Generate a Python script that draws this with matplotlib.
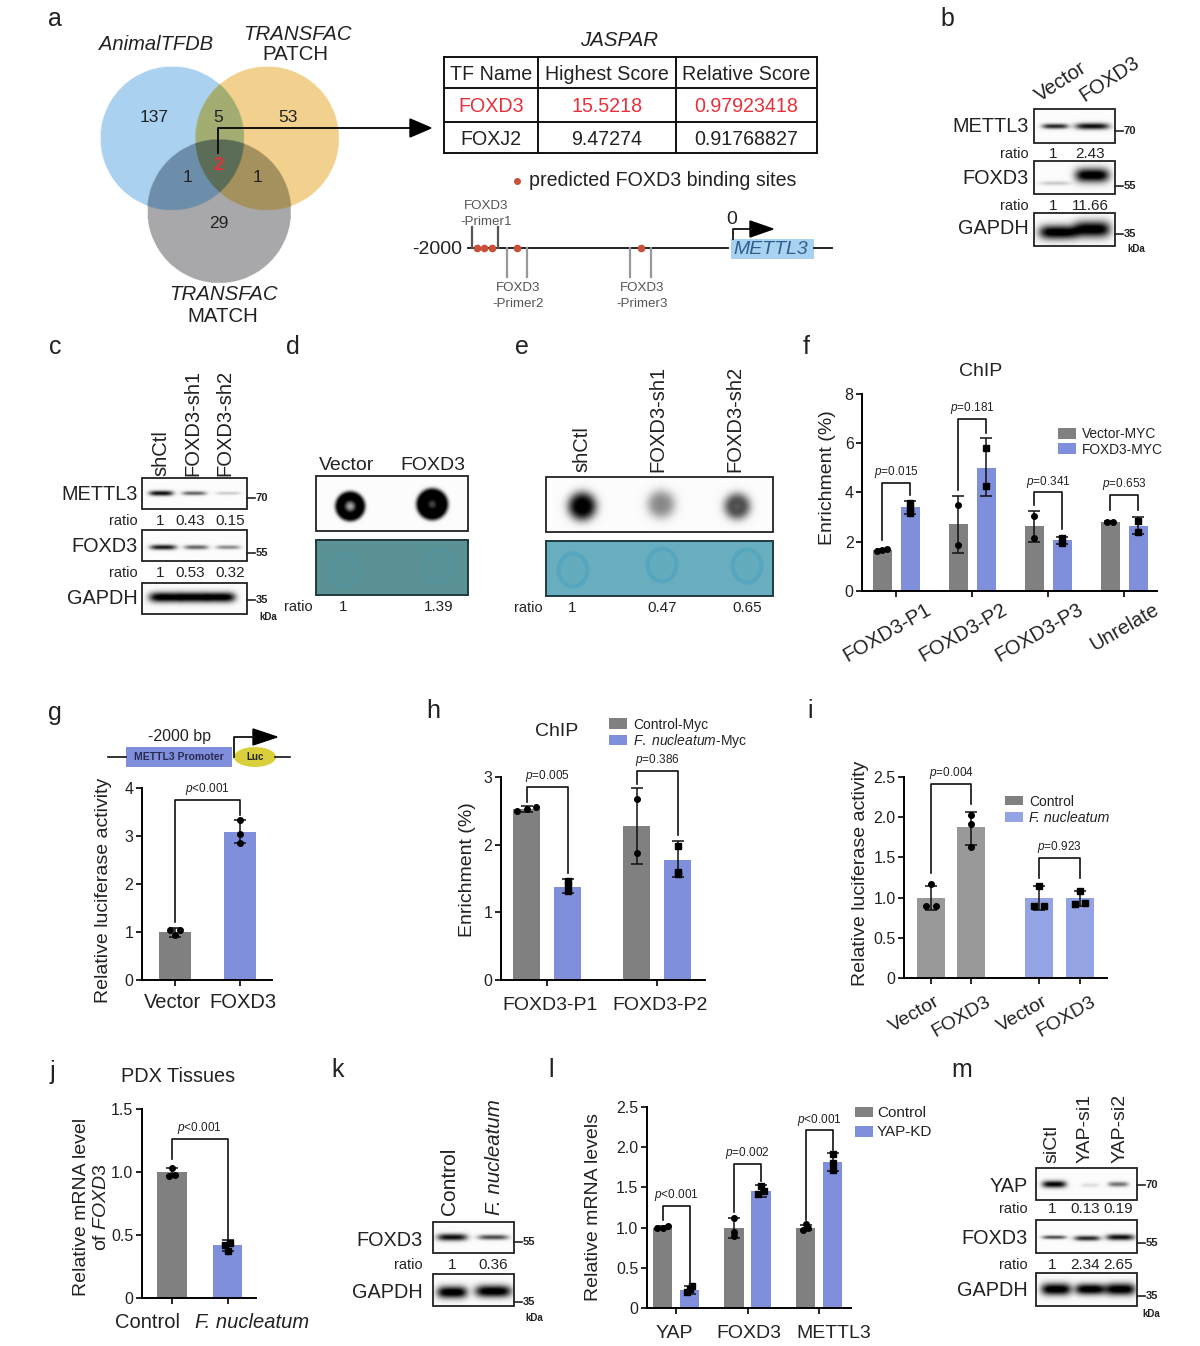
import matplotlib
matplotlib.use('Agg')
import matplotlib.pyplot as plt
import numpy as np
from matplotlib.patches import Rectangle, Ellipse, Polygon
from matplotlib.transforms import ScaledTranslation

plt.rcParams['font.family'] = 'Liberation Sans'
plt.rcParams['mathtext.fontset'] = 'custom'
plt.rcParams['mathtext.rm'] = 'Liberation Sans'
plt.rcParams['mathtext.it'] = 'Liberation Sans:italic'

W = 1200
H = 1346
INK = '#222222'
GRAY = '#808080'
BLUE = '#7F8FDC'
LGRAY = '#999999'
LBLUE = '#93A3E3'
RED = '#E8303A'
DOT = '#C9503A'

# panel f
f_groups = ['FOXD3-P1', 'FOXD3-P2', 'FOXD3-P3', 'Unrelate']
f_vector = [1.65, 2.7, 2.65, 2.8]
f_foxd3 = [3.4, 5.0, 2.05, 2.65]
f_vector_lo = [1.6, 1.55, 2.0, 2.77]
f_vector_hi = [1.7, 3.85, 3.25, 2.83]
f_foxd3_lo = [3.1, 3.85, 1.9, 2.3]
f_foxd3_hi = [3.65, 6.2, 2.2, 3.0]
f_vector_pts = [[1.62, 1.65, 1.68], [1.85, 3.5], [2.15, 3.05], [2.8, 2.8]]
f_foxd3_pts = [[3.15, 3.35, 3.55], [4.25, 5.8], [1.95, 2.15], [2.4, 2.85]]
f_brackets = [(2.05, 4.4, 3.9), (4.1, 7.0, 6.4), (3.5, 4.0, 2.5), (3.3, 3.9, 3.3)]
f_p = ['0.015', '0.181', '0.341', '0.653']

# panel g
g_labels = ['Vector', 'FOXD3']
g_values = [1.0, 3.07]
g_lo = [0.9, 2.85]
g_hi = [1.08, 3.32]
g_pts = [[0.93, 1.05, 1.05], [2.86, 3.03, 3.32]]

# panel h
h_groups = ['FOXD3-P1', 'FOXD3-P2']
h_control = [2.52, 2.27]
h_fn = [1.38, 1.78]
h_control_lo = [2.48, 1.72]
h_control_hi = [2.57, 2.84]
h_fn_lo = [1.29, 1.52]
h_fn_hi = [1.49, 2.06]
h_control_pts = [[2.5, 2.53, 2.55], [1.87, 2.67]]
h_fn_pts = [[1.32, 1.4, 1.47], [1.57, 1.6, 1.98]]
h_brackets = [(2.63, 2.85, 1.58), (2.9, 3.09, 2.14)]
h_p = ['0.005', '0.386']

# panel i
i_labels = ['Vector', 'FOXD3', 'Vector', 'FOXD3']
i_values = [1.0, 1.88, 1.0, 1.0]
i_lo = [0.85, 1.65, 0.85, 0.9]
i_hi = [1.15, 2.07, 1.14, 1.08]
i_pts = [[0.9, 0.9, 1.17], [1.63, 1.92, 2.03], [0.9, 0.9, 1.14], [0.92, 0.93, 1.08]]

# panel j
j_labels = ['Control', 'F. nucleatum']
j_values = [1.0, 0.42]
j_lo = [0.97, 0.37]
j_hi = [1.03, 0.46]
j_pts = [[0.97, 0.98, 1.03], [0.37, 0.42, 0.44]]

# panel l
l_groups = ['YAP', 'FOXD3', 'METTL3']
l_control = [1.0, 1.0, 1.0]
l_kd = [0.23, 1.46, 1.82]
l_control_lo = [0.98, 0.87, 0.97]
l_control_hi = [1.02, 1.12, 1.03]
l_kd_lo = [0.18, 1.38, 1.7]
l_kd_hi = [0.27, 1.53, 1.93]
l_control_pts = [[0.99, 1.0, 1.02], [0.9, 0.95, 1.12], [0.97, 1.0, 1.04]]
l_kd_pts = [[0.2, 0.24, 0.27], [1.42, 1.46, 1.52], [1.72, 1.8, 1.92]]
l_brackets = [(1.1, 1.27, 0.29), (1.2, 1.79, 1.58), (1.1, 2.21, 1.97)]
l_p = ['<0.001', '=0.002', '<0.001']

# table in panel a
table_rows = [['TF Name', 'Highest Score', 'Relative Score'],
              ['FOXD3', '15.5218', '0.97923418'],
              ['FOXJ2', '9.47274', '0.91768827']]

fig = plt.figure(figsize=(W / 100, H / 100), dpi=100)
bg = fig.add_axes([0, 0, 1, 1])
bg.set_xlim(0, W)
bg.set_ylim(H, 0)
bg.set_autoscale_on(False)
bg.axis('off')


def txt(x, y, s, size=14, ha='center', va='center', color=INK, **kw):
    # centred text sits a little low in the reference
    if va == 'center':
        y = y + 2
    bg.text(x, y, s, fontsize=size, ha=ha, va=va, color=color, **kw)


def px_axes(left, right, y_bottom, y_top, t0, step, ylim):
    ax = fig.add_axes([left / W, 1 - y_bottom / H, (right - left) / W, (y_bottom - y_top) / H])
    ax.patch.set_visible(False)
    ax.set_xlim((left - t0) / step, (right - t0) / step)
    ax.set_ylim(*ylim)
    for side in ['top', 'right']:
        ax.spines[side].set_visible(False)
    for side in ['left', 'bottom']:
        ax.spines[side].set_linewidth(1.4)
    ax.tick_params(width=1.2, length=4, labelsize=11.5, labelcolor=INK, pad=2)
    return ax


def shift(label, dx, dy=0):
    label.set_transform(label.get_transform() + ScaledTranslation(dx / 100, dy / 100, fig.dpi_scale_trans))


# points closer than thr sit side by side, as in a prism scatter
def swarm(vals, thr, dx):
    out = []
    for i, v in enumerate(vals):
        near = [j for j, u in enumerate(vals) if abs(u - v) < thr]
        out.append(dx * (near.index(i) - (len(near) - 1) / 2))
    return out


def bars(ax, xs, vals, lo, hi, pts, colors, markers, width, thr, dx):
    ax.bar(xs, vals, width, color=colors, zorder=1)
    yerr = [np.array(vals) - np.array(lo), np.array(hi) - np.array(vals)]
    ax.errorbar(xs, vals, yerr=yerr, fmt='none', ecolor='#111111', elinewidth=1.1,
                capsize=4.5, capthick=1.1, zorder=3)
    for x, p, m in zip(xs, pts, markers):
        off = swarm(p, thr, dx)
        size = 5 if m == 's' else 4
        ax.plot(np.array(off) + x, p, m, color='k', ms=size, zorder=4, clip_on=False)


def bracket(ax, xl, xr, b, p, label):
    ax.plot([xl, xl, xr, xr], [b[0], b[1], b[1], b[2]], color='#111111', lw=1.2,
            clip_on=False, zorder=5)
    ax.annotate(r'$\mathit{p}$' + label, ((xl + xr) / 2, p), xytext=(0, 2),
                textcoords='offset points', ha='center', va='bottom', fontsize=8.5,
                color=INK, annotation_clip=False)


def ylabel(ax, s, x, y):
    ax.set_ylabel(s, fontsize=14, color=INK)
    ax.yaxis.set_label_coords(x + 9, y, transform=bg.transData)


def swatch(x, y0, y1, color, label, size=10, style='normal', width=18, pad=6):
    bg.add_patch(Rectangle((x, y0), width, y1 - y0, color=color, lw=0))
    txt(x + width + pad, (y0 + y1) / 2 - 1, label, size=size, ha='left', style=style)


def blot(x0, x1, y0, y1, bands):
    yy, xx = np.mgrid[y0:y1:0.5, x0:x1:0.5]
    img = np.ones_like(xx) * 0.985
    for cx, cy, hw, hh, dark in bands:
        img -= dark * np.exp(-((xx - cx) / hw) ** 4 - ((yy - cy) / hh) ** 2)
    bg.imshow(np.clip(img, 0, 1), cmap='gray', vmin=0, vmax=1, extent=(x0, x1, y1, y0),
              aspect='auto', interpolation='bilinear', zorder=1)
    bg.add_patch(Rectangle((x0, y0), x1 - x0, y1 - y0, fill=False, ec='#222222', lw=1.3, zorder=2))


def dots(x0, x1, y0, y1, spots):
    yy, xx = np.mgrid[y0:y1:0.5, x0:x1:0.5]
    img = np.ones_like(xx) * 0.985
    for cx, cy, rad, sharp, dark, hole in spots:
        r = np.hypot(xx - cx, yy - cy)
        img -= dark * np.exp(-(r / rad) ** sharp) * (1 - hole * np.exp(-(r / 6.5) ** 2))
    bg.imshow(np.clip(img, 0, 1), cmap='gray', vmin=0, vmax=1, extent=(x0, x1, y1, y0),
              aspect='auto', interpolation='bilinear', zorder=1)
    bg.add_patch(Rectangle((x0, y0), x1 - x0, y1 - y0, fill=False, ec='#222222', lw=1.3, zorder=2))


def stained(x0, x1, y0, y1, fill, ring, rings, alpha):
    bg.add_patch(Rectangle((x0, y0), x1 - x0, y1 - y0, fc=fill, ec='#1F3A3E', lw=1.4))
    for cx, cy in rings:
        bg.add_patch(Ellipse((cx, cy), 29, 33, fc=ring, ec='none', alpha=alpha * 0.25))
        bg.add_patch(Ellipse((cx, cy), 29, 33, fill=False, ec=ring, lw=3, alpha=alpha))


def mw(x, y, label, size=8):
    bg.plot([x, x + 8], [y, y], color='#222222', lw=1.2)
    txt(x + 9, y - 2, label, size=size, ha='left', weight='bold')


# panel letters
letters = {'a': (55, 19), 'b': (947, 19), 'c': (55, 347), 'd': (293, 347), 'e': (522, 347),
           'f': (806, 347), 'g': (55, 713), 'h': (433, 711), 'i': (810, 711), 'j': (52, 1072),
           'k': (338, 1070), 'l': (551, 1070), 'm': (962, 1070)}
for k, (x, y) in letters.items():
    txt(x, y - 2, k, size=18)

# a: venn drawn as region colours
yy, xx = np.mgrid[50:300:0.5, 80:350:0.5]
in_blue = np.hypot(xx - 172, yy - 138) < 72
in_yellow = np.hypot(xx - 267, yy - 138) < 72
in_gray = np.hypot(xx - 219, yy - 211) < 72
region = in_blue * 1 + in_yellow * 2 + in_gray * 4
lut = np.array([[1, 1, 1, 0], [0.67, 0.82, 0.94, 1], [0.95, 0.82, 0.56, 1], [0.64, 0.68, 0.45, 1],
                [0.66, 0.66, 0.67, 1], [0.43, 0.56, 0.67, 1], [0.65, 0.57, 0.37, 1], [0.36, 0.43, 0.34, 1]])
bg.imshow(lut[region], extent=(80, 350, 300, 50), aspect='auto', interpolation='bilinear', zorder=1)
txt(156, 42, 'AnimalTFDB', style='italic', size=14.5)
txt(297, 32, 'TRANSFAC', style='italic', size=14.7)
txt(295, 53, 'PATCH', size=14.7)
txt(223, 292, 'TRANSFAC', style='italic', size=14.7)
txt(223, 314, 'MATCH', size=14.7)
for x, y, s in [(154, 116, '137'), (218, 116, '5'), (288, 116, '53'), (188, 176, '1'),
                (257, 176, '1'), (219, 221, '29')]:
    txt(x, y, s, size=12.5, zorder=3)
txt(218, 163, '2', size=13, color=RED, weight='bold', zorder=3)
bg.plot([218, 218, 412], [153, 128, 128], color='#111111', lw=1.4, zorder=3)
bg.add_patch(Polygon([[410, 119], [431, 128], [410, 137]], color='k', zorder=3))

txt(619, 39, 'JASPAR', style='italic', size=14.8)
col_lines = [444, 538, 676, 817]
row_lines = [57, 88, 122, 153]
for x in col_lines:
    bg.plot([x, x], [row_lines[0], row_lines[-1]], color='#111111', lw=1.4)
for y in row_lines:
    bg.plot([col_lines[0], col_lines[-1]], [y, y], color='#111111', lw=1.4)
for r, row in enumerate(table_rows):
    for c, s in enumerate(row):
        txt((col_lines[c] + col_lines[c + 1]) / 2, (row_lines[r] + row_lines[r + 1]) / 2, s,
            size=14.1, color=RED if r == 1 else INK)

bg.plot([517], [181], 'o', color=DOT, ms=4)
txt(529, 178, 'predicted FOXD3 binding sites', size=14.1, ha='left')
bg.plot([468, 728], [248, 248], color='#111111', lw=1.3)
bg.plot([814, 832], [248, 248], color='#111111', lw=1.3)
for x in [472, 498]:
    bg.plot([x, x], [227, 248], color='#555555', lw=1.6)
for x in [507, 527, 630, 651]:
    bg.plot([x, x], [248, 277], color='#999999', lw=1.6)
bg.plot([477, 484, 492, 517, 641], [248] * 5, 'o', color=DOT, ms=4.5, zorder=3)
for x, y, n in [(486, 204, 1), (518, 286, 2), (642, 286, 3)]:
    txt(x, y, 'FOXD3', size=9.6, color='#555555')
    txt(x, y + 16, '-Primer%d' % n, size=9.6, color='#555555')
txt(437, 248, '-2000', size=14)
txt(732, 217, '0', size=14)
bg.add_patch(Rectangle((731, 239), 83, 20, color='#A9D2F0', lw=0))
txt(771, 247, 'METTL3', style='italic', size=14, color='#2F5F8F')
bg.plot([733, 733, 752], [239, 229, 229], color='#111111', lw=1.3)
bg.add_patch(Polygon([[750, 221], [773, 229], [750, 237]], color='k'))

# b
blot(1034, 1115, 109, 143, [(1055, 126, 13, 2.5, 0.85), (1092, 126, 17, 3.2, 0.95)])
blot(1034, 1115, 161, 194, [(1055, 183, 15, 2, 0.2), (1092, 175, 17, 7, 1.1)])
blot(1034, 1115, 213, 246, [(1058, 232, 19, 7, 1.1), (1092, 229, 18, 8, 1.1)])
for y, s in [(124, 'METTL3'), (176, 'FOXD3'), (227, 'GAPDH')]:
    txt(1029, y, s, size=14.3, ha='right')
for y, vals in [(152, ['1', '2.43']), (204, ['1', '11.66'])]:
    txt(1029, y, 'ratio', size=10.5, ha='right')
    txt(1053, y, vals[0], size=11)
    txt(1090, y, vals[1], size=11)
mw(1115, 131, '70')
mw(1115, 186, '55')
mw(1115, 234, '35')
txt(1136, 247, 'kDa', size=7, weight='bold')
txt(1042, 105, 'Vector', size=14.5, rotation=33, ha='left', va='bottom', rotation_mode='anchor')
txt(1087, 105, 'FOXD3', size=14.5, rotation=33, ha='left', va='bottom', rotation_mode='anchor')

# c
blot(142, 247, 478, 509, [(161, 493, 12, 2.5, 0.95), (194, 493, 12, 2, 0.6), (228, 493, 12, 1.5, 0.2)])
blot(142, 247, 530, 561, [(163, 547, 13, 2.5, 0.9), (196, 547, 12, 2.2, 0.6), (228, 547, 12, 2, 0.45)])
blot(142, 247, 583, 614, [(165, 597, 16, 5, 1.1), (193, 597, 15, 5, 1.1), (220, 597, 15, 5, 1.1)])
for y, s in [(492, 'METTL3'), (544, 'FOXD3'), (596, 'GAPDH')]:
    txt(138, y, s, size=14.3, ha='right')
for y, vals in [(519, ['1', '0.43', '0.15']), (571, ['1', '0.53', '0.32'])]:
    txt(138, y, 'ratio', size=10.5, ha='right')
    for x, v in zip([160, 190, 230], vals):
        txt(x, y, v, size=11)
mw(247, 498, '70')
mw(247, 553, '55')
mw(247, 600, '35')
txt(268, 615, 'kDa', size=7, weight='bold')
for x, s in [(161, 'shCtl'), (193, 'FOXD3-sh1'), (225, 'FOXD3-sh2')]:
    txt(x, 476, s, size=14.5, rotation=90, va='bottom')

# d
txt(347, 464, 'Vector', size=14)
txt(433, 464, 'FOXD3', size=14)
dots(316, 468, 476, 531, [(350, 506, 15, 8, 1.3, 0.75), (432, 504, 16, 8, 1.3, 0.45)])
stained(316, 468, 540, 595, '#5B9296', '#4E9AA6', [(345, 570), (438, 566)], 0.35)
txt(313, 605, 'ratio', size=10.5, ha='right')
txt(343, 605, '1', size=11)
txt(439, 605, '1.39', size=11)

# e
for x, s in [(582, 'shCtl'), (658, 'FOXD3-sh1'), (735, 'FOXD3-sh2')]:
    txt(x, 472, s, size=14.5, rotation=90, va='bottom')
dots(546, 773, 477, 532, [(582, 506, 14, 3, 1.1, 0.1), (661, 504, 14, 3, 0.45, 0.0), (737, 506, 13, 3, 0.8, 0.2)])
stained(546, 773, 541, 596, '#68AEBE', '#3F9CC0', [(573, 570), (662, 565), (747, 566)], 0.4)
txt(543, 606, 'ratio', size=10.5, ha='right')
for x, s in [(572, '1'), (662, '0.47'), (747, '0.65')]:
    txt(x, 606, s, size=11)

# f
txt(981, 370, 'ChIP', size=14)
ax = px_axes(862, 1157, 590.7, 394, 896, 76, (0, 8))
n = np.arange(len(f_groups))
off = 14 / 76
bars(ax, n - off, f_vector, f_vector_lo, f_vector_hi, f_vector_pts, [GRAY] * 4, ['o'] * 4, 0.25, 0.2, 0.07)
bars(ax, n + off, f_foxd3, f_foxd3_lo, f_foxd3_hi, f_foxd3_pts, [BLUE] * 4, ['s'] * 4, 0.25, 0.1, 0.07)
for i in n:
    bracket(ax, i - off, i + off, f_brackets[i], f_brackets[i][1], '=' + f_p[i])
ax.set_yticks([0, 2, 4, 6, 8])
ax.set_xticks(n)
ax.set_xticklabels(f_groups, rotation=30, ha='right', rotation_mode='anchor', fontsize=14.5)
for label in ax.get_xticklabels():
    shift(label, 29, -1)
ylabel(ax, 'Enrichment (%)', 827, 478)
swatch(1058, 428, 439, GRAY, 'Vector-MYC', size=9.9)
swatch(1058, 443, 454, BLUE, 'FOXD3-MYC', size=9.9)

# g
bg.plot([108, 126], [757, 757], color='#111111', lw=1.2)
bg.plot([275, 290], [757, 757], color='#111111', lw=1.2)
bg.add_patch(Rectangle((126, 747), 106, 20, color=BLUE, lw=0))
txt(179, 755, 'METTL3 Promoter', size=7.5, weight='bold', color='#2A2A50')
bg.add_patch(Ellipse((255, 757), 42, 20, color='#D9CF3A', lw=0))
txt(255, 755, 'Luc', size=7, weight='bold')
bg.plot([234, 234, 254], [757, 737, 737], color='#111111', lw=1.3)
bg.add_patch(Polygon([[253, 729], [277, 737], [253, 745]], color='k'))
txt(179, 734, '-2000 bp', size=11.5)
ax = px_axes(141.7, 271.7, 980, 787.7, 175, 65, (0, 4))
bars(ax, [0, 1], g_values, g_lo, g_hi, g_pts, [GRAY, BLUE], ['o', 'o'], 0.49, 0.1, 0.16)
bracket(ax, 0, 1, (1.21, 3.75, 3.44), 3.75, '<0.001')
ax.set_yticks([0, 1, 2, 3, 4])
ax.set_xticks([0, 1])
ax.set_xticklabels(g_labels, fontsize=14.5)
ax.tick_params(axis='x', pad=5)
for label, dx in zip(ax.get_xticklabels(), [-2, 3]):
    shift(label, dx)
ylabel(ax, 'Relative luciferase activity', 103, 890)

# h
txt(557, 730, 'ChIP', size=14)
ax = px_axes(500.7, 705, 980, 777, 547, 110, (0, 3))
n = np.arange(len(h_groups))
off = 20.5 / 110
bars(ax, n - off, h_control, h_control_lo, h_control_hi, h_control_pts, [GRAY] * 2, ['o'] * 2, 0.25, 0.08, 0.09)
bars(ax, n + off, h_fn, h_fn_lo, h_fn_hi, h_fn_pts, [BLUE] * 2, ['s'] * 2, 0.25, 0.02, 0.06)
for i in n:
    bracket(ax, i - off, i + off, h_brackets[i], h_brackets[i][1], '=' + h_p[i])
ax.set_yticks([0, 1, 2, 3])
ax.set_xticks(n)
ax.set_xticklabels(h_groups, fontsize=14)
ax.tick_params(axis='x', pad=8)
for label in ax.get_xticklabels():
    shift(label, 3)
ylabel(ax, 'Enrichment (%)', 467, 870)
swatch(609, 718, 729, GRAY, 'Control-Myc', size=10)
swatch(609, 735, 745, BLUE, r'$\mathit{F.\ nucleatum}$-Myc', size=10)

# i
ax = px_axes(904, 1107, 978, 777, 931, 40, (0, 2.5))
i_x = [0, 1, 2.7, 3.72]
bars(ax, i_x, i_values, i_lo, i_hi, i_pts, [LGRAY, LGRAY, LBLUE, LBLUE], ['o', 'o', 's', 's'], 0.69, 0.08, 0.25)
bracket(ax, i_x[0], i_x[1], (1.3, 2.41, 2.16), 2.41, '=0.004')
bracket(ax, i_x[2], i_x[3], (1.24, 1.49, 1.24), 1.49, '=0.923')
ax.set_yticks([0, 0.5, 1.0, 1.5, 2.0, 2.5])
ax.set_yticklabels(['0', '0.5', '1.0', '1.5', '2.0', '2.5'])
ax.set_xticks(i_x)
ax.set_xticklabels(i_labels, rotation=30, ha='right', rotation_mode='anchor', fontsize=14)
ax.tick_params(axis='x', pad=7)
for label, dx in zip(ax.get_xticklabels(), [3, 14, 3, 10]):
    shift(label, dx)
ylabel(ax, 'Relative luciferase activity', 860, 873)
swatch(1005, 796, 805, GRAY, 'Control', size=10)
swatch(1005, 812, 822, LBLUE, 'F. nucleatum', size=10.3, style='italic')

# j
txt(178, 1074, 'PDX Tissues', size=14.3)
ax = px_axes(141.7, 256, 1298, 1109, 172, 55.5, (0, 1.5))
bars(ax, [0, 1], j_values, j_lo, j_hi, j_pts, [GRAY, BLUE], ['o', 's'], 0.53, 0.03, 0.1)
bracket(ax, 0, 1, (1.1, 1.26, 0.47), 1.26, '<0.001')
ax.set_yticks([0, 0.5, 1.0, 1.5])
ax.set_yticklabels(['0', '0.5', '1.0', '1.5'])
ax.set_xticks([0, 1])
ax.set_xticklabels(j_labels, fontsize=14.5)
ax.get_xticklabels()[1].set_style('italic')
ax.tick_params(axis='x', pad=7)
for label, dx in zip(ax.get_xticklabels(), [-24, 25]):
    shift(label, dx)
ax.set_ylabel('Relative mRNA level\nof $\\mathit{FOXD3}$', fontsize=14, color=INK, linespacing=1.2)
ax.yaxis.set_label_coords(110, 1207, transform=bg.transData)

# k
blot(433, 514, 1222, 1253, [(452, 1237, 15, 3.5, 0.95), (493, 1237, 15, 2.5, 0.7)])
blot(433, 514, 1274, 1306, [(452, 1292, 15, 6, 1.1), (493, 1291, 18, 6, 1.1)])
txt(423, 1238, 'FOXD3', size=14.3, ha='right')
txt(423, 1290, 'GAPDH', size=14.3, ha='right')
txt(423, 1263, 'ratio', size=10.5, ha='right')
txt(452, 1263, '1', size=11)
txt(493, 1263, '0.36', size=11)
mw(514, 1242, '55')
mw(514, 1302, '35')
txt(534, 1316, 'kDa', size=7, weight='bold')
txt(450, 1215, 'Control', size=15, rotation=90, va='bottom')
txt(495, 1215, 'F. nucleatum', size=14.8, rotation=90, va='bottom', style='italic')

# l
ax = px_axes(646.6, 851, 1308, 1107, 676, 71.5, (0, 2.5))
n = np.arange(len(l_groups))
off = 13.5 / 71.5
bars(ax, n - off, l_control, l_control_lo, l_control_hi, l_control_pts, [GRAY] * 3, ['o'] * 3, 0.27, 0.04, 0.07)
bars(ax, n + off, l_kd, l_kd_lo, l_kd_hi, l_kd_pts, [BLUE] * 3, ['s'] * 3, 0.27, 0.05, 0.07)
for i in n:
    bracket(ax, i - off, i + off, l_brackets[i], l_brackets[i][1], l_p[i])
ax.set_yticks([0, 0.5, 1.0, 1.5, 2.0, 2.5])
ax.set_yticklabels(['0', '0.5', '1.0', '1.5', '2.0', '2.5'])
ax.set_xticks(n)
ax.set_xticklabels(l_groups, fontsize=14)
ax.tick_params(axis='x', pad=8)
for label, dx in zip(ax.get_xticklabels(), [-2, 1, 15]):
    shift(label, dx)
ylabel(ax, 'Relative mRNA levels', 593, 1207)
swatch(855, 1107, 1117, GRAY, 'Control', size=11, pad=4)
swatch(855, 1126, 1137, BLUE, 'YAP-KD', size=11, pad=4)

# m
blot(1036, 1137, 1168, 1200, [(1054, 1184, 12, 3.5, 1.0), (1090, 1185, 9, 2, 0.12), (1118, 1184, 10, 2.5, 0.55)])
blot(1036, 1137, 1220, 1253, [(1054, 1237, 12, 1.8, 0.7), (1087, 1238, 13, 2.5, 0.85), (1120, 1237, 14, 3, 0.95)])
blot(1036, 1137, 1273, 1306, [(1056, 1289, 15, 6, 1.1), (1090, 1289, 15, 5.5, 1.1), (1120, 1289, 15, 6, 1.1)])
for y, s in [(1184, 'YAP'), (1236, 'FOXD3'), (1288, 'GAPDH')]:
    txt(1028, y, s, size=14.3, ha='right')
for y, vals in [(1207, ['1', '0.13', '0.19']), (1263, ['1', '2.34', '2.65'])]:
    txt(1028, y, 'ratio', size=10.5, ha='right')
    for x, v in zip([1052, 1085, 1118], vals):
        txt(x, y, v, size=11)
mw(1137, 1185, '70')
mw(1137, 1243, '55')
mw(1137, 1296, '35')
txt(1151, 1312, 'kDa', size=7, weight='bold')
for x, s in [(1052, 'siCtl'), (1085, 'YAP-si1'), (1120, 'YAP-si2')]:
    txt(x, 1163, s, size=14, rotation=90, va='bottom')

fig.savefig('out.png', dpi=100)
